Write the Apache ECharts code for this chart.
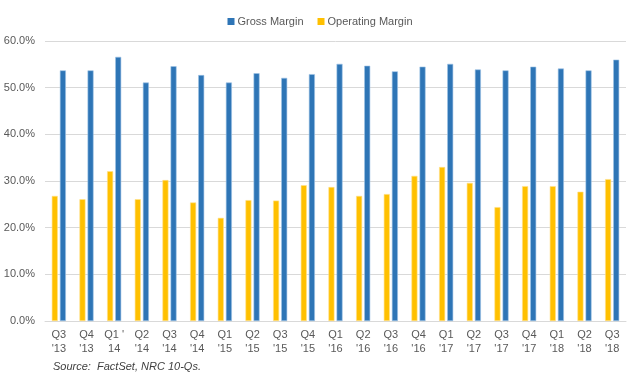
<!DOCTYPE html>
<html>
<head>
<meta charset="utf-8">
<script src="https://cdn.jsdelivr.net/npm/echarts@6/dist/echarts.min.js"></script>
<style>html,body{margin:0;padding:0;background:#fff;}#c{width:640px;height:387px;}</style>
</head>
<body>
<div id="c"></div>
<script>
const categories = ["Q3\n'13","Q4\n'13","Q1 '\n14","Q2\n'14","Q3\n'14","Q4\n'14","Q1\n'15","Q2\n'15","Q3\n'15","Q4\n'15","Q1\n'16","Q2\n'16","Q3\n'16","Q4\n'16","Q1\n'17","Q2\n'17","Q3\n'17","Q4\n'17","Q1\n'18","Q2\n'18","Q3\n'18"];
const grossMargin = [53.7,53.7,56.6,51.1,54.6,52.7,51.1,53.1,52.1,52.9,55.1,54.7,53.5,54.5,55.1,53.9,53.7,54.5,54.1,53.7,56.0];
const operatingMargin = [26.8,26.1,32.1,26.1,30.2,25.4,22.1,25.9,25.8,29.1,28.7,26.8,27.2,31.1,33.0,29.6,24.4,28.9,28.9,27.7,30.4];
const yTicks = [0,10,20,30,40,50,60];

const chart = echarts.init(document.getElementById('c'), null, {renderer:'canvas'});
const font = "'Liberation Sans', Arial, sans-serif";
chart.setOption({
  animation:false,
  textStyle:{fontFamily:font},
  legend:{
    data:['Gross Margin','Operating Margin'],
    top:11, left:'center',
    itemWidth:7, itemHeight:7, itemGap:14,
    icon:'rect',
    itemStyle:{borderWidth:0},
    textStyle:{color:'#595959', fontSize:11, fontFamily:font, padding:[0,0,0,-2]}
  },
  grid:{left:45, right:14, top:41, bottom:66},
  xAxis:{
    type:'category',
    data:categories,
    axisLine:{lineStyle:{color:'#D9D9D9'}},
    axisTick:{show:false},
    axisLabel:{color:'#595959', fontSize:11, lineHeight:14, margin:7, interval:0, fontFamily:font}
  },
  yAxis:{
    type:'value', min:yTicks[0], max:yTicks[yTicks.length-1], interval:10,
    axisLine:{show:false}, axisTick:{show:false},
    splitLine:{lineStyle:{color:'#D9D9D9'}},
    axisLabel:{color:'#595959', fontSize:11, margin:10, fontFamily:font, formatter:v=>v.toFixed(1)+'%'}
  },
  series:[
    {name:'Operating Margin', type:'bar', data:operatingMargin, barWidth:6, barGap:'35%',
     itemStyle:{color:'#FFC000', borderColor:'#FFE08A', borderWidth:0.6}},
    {name:'Gross Margin', type:'bar', data:grossMargin, barWidth:6,
     itemStyle:{color:'#2E75B6', borderColor:'#9DC3E6', borderWidth:0.6}}
  ],
  graphic:[{
    type:'text', left:53, top:361,
    style:{text:'Source:  FactSet, NRC 10-Qs.', fill:'#404040', font:"italic 11px 'Liberation Sans', Arial, sans-serif"}
  }]
});
</script>
</body>
</html>
